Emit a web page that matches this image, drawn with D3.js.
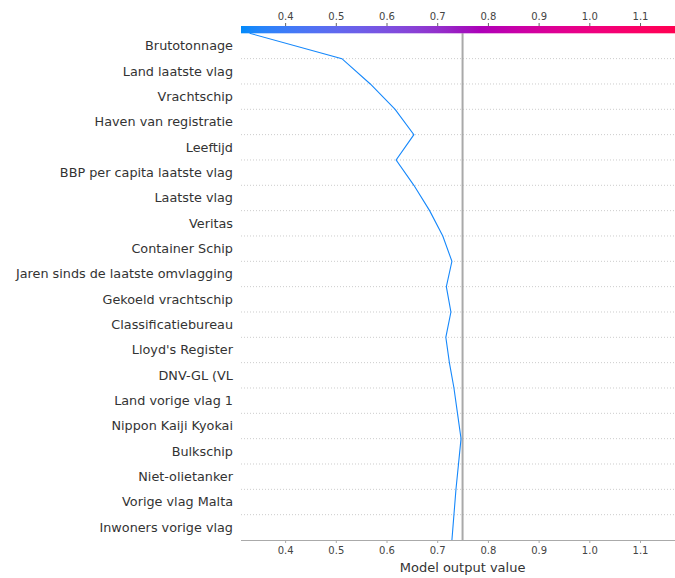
<!DOCTYPE html>
<html>
<head>
<meta charset="utf-8">
<script src="https://cdn.jsdelivr.net/npm/d3@7/dist/d3.min.js"></script>
<style>
  html, body { margin: 0; padding: 0; background: #fff; }
  svg { display: block; font-family: "DejaVu Sans", sans-serif; }
</style>
</head>
<body>
<svg id="chart" width="675" height="578"></svg>
<script>
// Features, listed from the top of the plot to the bottom
const features = [
  "Brutotonnage",
  "Land laatste vlag",
  "Vrachtschip",
  "Haven van registratie",
  "Leeftijd",
  "BBP per capita laatste vlag",
  "Laatste vlag",
  "Veritas",
  "Container Schip",
  "Jaren sinds de laatste omvlagging",
  "Gekoeld vrachtschip",
  "Classificatiebureau",
  "Lloyd's Register",
  "DNV-GL (VL",
  "Land vorige vlag 1",
  "Nippon Kaiji Kyokai",
  "Bulkschip",
  "Niet-olietanker",
  "Vorige vlag Malta",
  "Inwoners vorige vlag"
];

// Cumulative model output along the decision path, from the bottom (0) to the top (20)
const pathValues = [
  0.729, 0.733, 0.737, 0.742, 0.747, 0.740, 0.733, 0.724, 0.717, 0.727,
  0.718, 0.729, 0.711, 0.685, 0.654, 0.619, 0.654, 0.617, 0.568, 0.512,
  0.330
];

const baseValue = 0.750;
const xDomain = [0.313, 1.169];
const tickValues = [0.4, 0.5, 0.6, 0.7, 0.8, 0.9, 1.0, 1.1];
const xTitle = "Model output value";

const svg = d3.select("#chart");
const plotLeft = 241, plotRight = 675, plotTop = 33.3, plotBottom = 540, barTop = 26;
const n = features.length;

const x = d3.scaleLinear().domain(xDomain).range([plotLeft, plotRight]);
const y = d3.scaleLinear().domain([0, n]).range([plotBottom, plotTop]);

// red-blue colour map: blue -> dark purple -> red, interpolated in HCL
const cBlue = "rgb(0,139,251)", cMid = d3.hcl(318, 88, 40), cRed = "rgb(255,0,81)";
const lowHalf = d3.interpolateHcl(cBlue, cMid);
const highHalf = d3.interpolateHcl(cMid, cRed);
const cmap = t => t < 0.5 ? lowHalf(t * 2) : highHalf((t - 0.5) * 2);
const norm = d3.scaleLinear().domain(xDomain).range([0, 1]).clamp(true);

// dotted horizontal grid between features
svg.append("g")
  .selectAll("line")
  .data(d3.range(1, n))
  .join("line")
  .attr("x1", plotLeft).attr("x2", plotRight)
  .attr("y1", d => y(d)).attr("y2", d => y(d))
  .attr("stroke", "#cccccc")
  .attr("stroke-width", 1)
  .attr("stroke-dasharray", "1,2");

// base value line
svg.append("line")
  .attr("x1", x(baseValue)).attr("x2", x(baseValue))
  .attr("y1", plotTop).attr("y2", plotBottom)
  .attr("stroke", "#a9a9a9")
  .attr("stroke-width", 2);

// colour bar across the top
const defs = svg.append("defs");
const grad = defs.append("linearGradient").attr("id", "cbar")
  .attr("x1", "0%").attr("x2", "100%").attr("y1", "0%").attr("y2", "0%");
d3.range(0, 1.0001, 0.025).forEach(t => {
  grad.append("stop").attr("offset", (t * 100) + "%").attr("stop-color", d3.rgb(cmap(t)).formatRgb());
});
svg.append("rect")
  .attr("x", plotLeft).attr("y", barTop)
  .attr("width", plotRight - plotLeft).attr("height", plotTop - barTop)
  .attr("fill", "url(#cbar)");

// top axis on the colour bar
const topAxis = svg.append("g")
  .attr("transform", `translate(0,${barTop})`)
  .call(d3.axisTop(x).tickValues(tickValues).tickFormat(d3.format(".1f")).tickSize(3).tickPadding(3));
topAxis.select(".domain").remove();
topAxis.selectAll(".tick line").attr("stroke", "#666");
topAxis.selectAll("text").attr("fill", "#444").attr("font-size", 10)
  .attr("font-family", "DejaVu Sans, sans-serif");

// bottom axis
const botAxis = svg.append("g")
  .attr("transform", `translate(0,${plotBottom})`)
  .call(d3.axisBottom(x).tickValues(tickValues).tickFormat(d3.format(".1f")).tickSize(3).tickPadding(4));
botAxis.select(".domain").attr("d", `M${plotLeft},0.5H${plotRight}`).attr("stroke", "#aaaaaa");
botAxis.selectAll(".tick line").attr("stroke", "#aaaaaa");
botAxis.selectAll("text").attr("fill", "#444").attr("font-size", 10)
  .attr("font-family", "DejaVu Sans, sans-serif");

svg.append("text")
  .attr("x", x(0.75)).attr("y", 571.5)
  .attr("text-anchor", "middle")
  .attr("font-size", 13)
  .attr("fill", "#333")
  .text(xTitle);

// feature labels
svg.append("g")
  .selectAll("text")
  .data(features)
  .join("text")
  .attr("x", 233)
  .attr("y", (d, i) => y(n - i - 0.5))
  .attr("dy", "0.35em")
  .attr("text-anchor", "end")
  .attr("font-size", 12.8)
  .attr("fill", "#333")
  .text(d => d);

// decision path
const line = d3.line()
  .x(d => x(d))
  .y((d, i) => y(i));
svg.append("path")
  .datum(pathValues)
  .attr("d", line)
  .attr("fill", "none")
  .attr("stroke", d3.rgb(cmap(norm(pathValues[pathValues.length - 1]))).formatRgb())
  .attr("stroke-width", 1.1);
</script>
</body>
</html>
